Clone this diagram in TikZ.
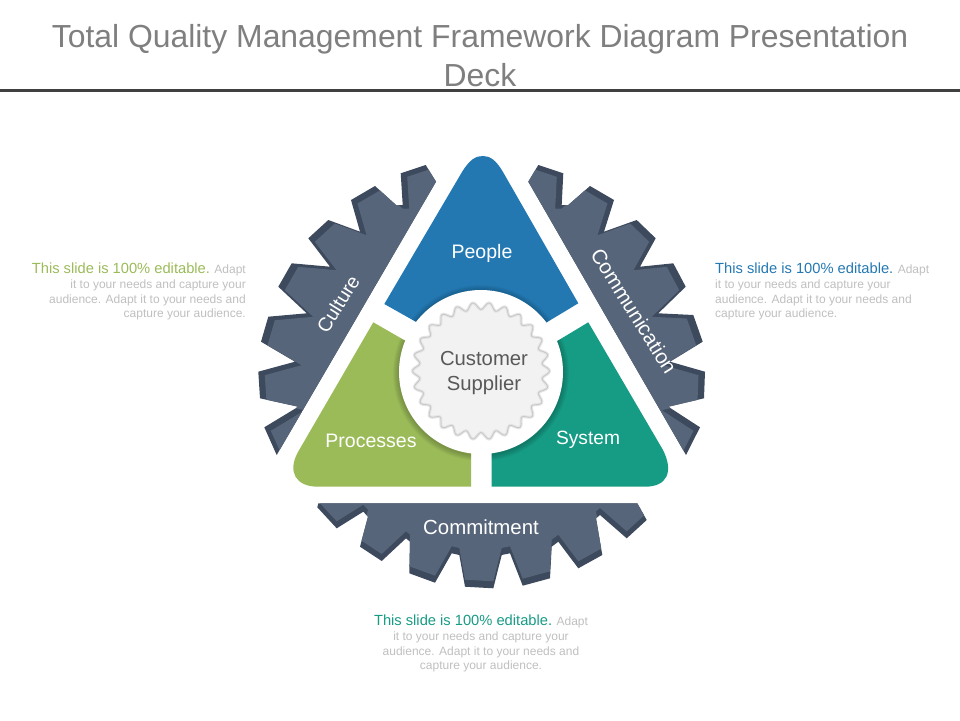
\documentclass[tikz,border=0pt]{standalone}
\usepackage{fontspec}
\setmainfont{Liberation Sans}
\definecolor{peopleblue}{HTML}{2378B2}
\definecolor{processgreen}{HTML}{9BBB59}
\definecolor{systemteal}{HTML}{169B84}
\definecolor{gearlight}{HTML}{566579}
\definecolor{geardark}{HTML}{3D495D}
\definecolor{titlegrey}{HTML}{7F7F7F}
\definecolor{notegrey}{HTML}{BFBFBF}
\newcommand{\notehead}[2]{\textcolor{#1}{\fontsize{14.7}{14.7}\selectfont #2}}
\tikzset{
	gearlabel/.style={text=white, font=\fontsize{19.5}{21}\selectfont, inner sep=0pt},
	notetext/.style={text=notegrey, font=\fontsize{12}{14.7}\selectfont, inner sep=0pt},
}
\newcommand{\peoplepath}{(384.3,304) -- (462,172) .. controls (470,159) and (476,156) .. (483,156) .. controls (490,156) and (496,160) .. (503,172) -- (578.3,303.3) -- (547.7,321.7) -- (481,372) -- (415.7,321.7) -- cycle}
\newcommand{\processpath}{(373.3,322.3) -- (404,340) -- (481,372) -- (471,440) -- (471,486.7) -- (318,486.7) .. controls (296,486.7) and (287,472) .. (298,452) -- cycle}
\newcommand{\systempath}{(588.3,322.3) -- (557.7,340.7) -- (481,372) -- (491.7,440) -- (491.7,486.7) -- (645,486.7) .. controls (667,486.7) and (674,472) .. (663,450) -- cycle}
\newcommand{\culturepath}{(436,181.7) -- (425.7,165) -- (400.7,173.3) -- (402.7,205) -- (396,205) -- (375,186) -- (351,200) -- (360,231.7) -- (328.3,220) -- (308.3,238.3) -- (330,266.7) -- (291.7,263.3) -- (278.3,286.7) -- (306.7,313.3) -- (268.3,316.7) -- (261,341.7) -- (295,361.7) -- (258.3,371.7) -- (260,398.3) -- (298.3,406.7) -- (264.3,427.3) -- (276.7,455) -- cycle}
\newcommand{\commpath}{(528.3,181.7) -- (538.3,165) -- (563.3,173.3) -- (561.7,205) -- (568.3,205) -- (590,186) -- (614,200) -- (604,231.7) -- (636.7,220) -- (655.7,238.3) -- (640,266.7) -- (673.3,263.3) -- (685.7,286.7) -- (658.3,313.3) -- (693.3,315) -- (702.7,341.7) -- (670,361.7) -- (705,371.7) -- (704,398.3) -- (668.3,406.7) -- (700,427.3) -- (686,455) -- cycle}
\newcommand{\commitpath}{(318.3,503.3) -- (317.3,507.3) -- (336.7,528.3) -- (363.3,511.7) -- (368,516.7) -- (360,546.7) -- (381.7,561) -- (406,538.3) -- (410,541.7) -- (409.3,573.3) -- (435,582.7) -- (451.7,553.3) -- (459.3,555) -- (465,586.7) -- (493.3,588.3) -- (501.7,555) -- (510,553.3) -- (522.7,585.7) -- (550,578.3) -- (551.7,546.7) -- (558.3,541.7) -- (578.3,568.3) -- (602.3,555) -- (596,518.3) -- (600,515) -- (626.7,538.3) -- (646.7,520) -- (637.3,503.3) -- cycle}
\begin{document}
\begin{tikzpicture}[x=1pt, y=-1pt, line join=miter]
	\useasboundingbox (0,0) rectangle (960,720);
	
	% Title
	\node[text=titlegrey, font=\fontsize{31.9}{39}\selectfont, align=center, inner sep=0pt] (title) at (480,56) {Total Quality Management Framework Diagram Presentation\\Deck};
	\fill[black!75] (0,89) rectangle (960,91.5);
	
	% Gear pieces
	\fill[geardark] \culturepath;
	\begin{scope}
		\clip \culturepath;
		\fill[gearlight, shift={(6.5,3.5)}] \culturepath;
	\end{scope}
	\fill[geardark] \commpath;
	\begin{scope}
		\clip \commpath;
		\fill[gearlight, shift={(-6.5,3.5)}] \commpath;
	\end{scope}
	\fill[geardark] \commitpath;
	\begin{scope}
		\clip \commitpath;
		\fill[gearlight, shift={(0,-7)}] \commitpath;
	\end{scope}
	
	% Triangles
	\fill[peopleblue] \peoplepath;
	\fill[processgreen] \processpath;
	\fill[systemteal] \systempath;
	
	% Shadow of the disc, on the triangles only
	\begin{scope}
		\clip \peoplepath \processpath \systempath;
		\foreach \r in {1,2,...,6}
			\fill[black, opacity=0.035] (481,373) circle ({82pt+\r pt});
	\end{scope}
	\fill[white] (481,372) circle (82pt);
	
	% Small gear in the middle
	\draw[black!10, line width=3pt, fill=black!5, samples=260, domain=0:360, smooth] plot ({481+(65+3.5*cos(26*\x))*cos(\x)},{371+(65+3.5*cos(26*\x))*sin(\x)}) -- cycle;
	\draw[black!22, line width=0.8pt, samples=260, domain=0:360, smooth] plot ({481+(65+3.5*cos(26*\x))*cos(\x)},{371+(65+3.5*cos(26*\x))*sin(\x)}) -- cycle;
	\node[text=black!65, font=\fontsize{20.3}{25}\selectfont, align=center, inner sep=0pt] (customer) at (484,373) {Customer\\Supplier};
	
	% Labels
	\node[gearlabel] (people) at (482,253) {People};
	\node[gearlabel] (processes) at (371,441) {Processes};
	\node[gearlabel, font=\fontsize{19.2}{21}\selectfont] (system) at (588,440) {System};
	\node[gearlabel, rotate=58] (culture) at (338,304) {Culture};
	\node[gearlabel, rotate=-58, font=\fontsize{20.6}{21}\selectfont] (communication) at (634,311) {Communication};
	\node[gearlabel, font=\fontsize{20.4}{21}\selectfont] (commitment) at (481,527) {Commitment};
	
	% Side notes
	\node[notetext, align=right, anchor=north east] (noteleft) at (246,263) {\notehead{processgreen}{This slide is 100\% editable.} Adapt\\it to your needs and capture your\\audience. Adapt it to your needs and\\capture your audience.};
	\node[notetext, align=left, anchor=north west] (noteright) at (715,263) {\notehead{peopleblue}{This slide is 100\% editable.} Adapt\\it to your needs and capture your\\audience. Adapt it to your needs and\\capture your audience.};
	\node[notetext, align=center, anchor=north] (notebottom) at (481,615) {\notehead{systemteal}{This slide is 100\% editable.} Adapt\\it to your needs and capture your\\audience. Adapt it to your needs and\\capture your audience.};
\end{tikzpicture}
\end{document}
